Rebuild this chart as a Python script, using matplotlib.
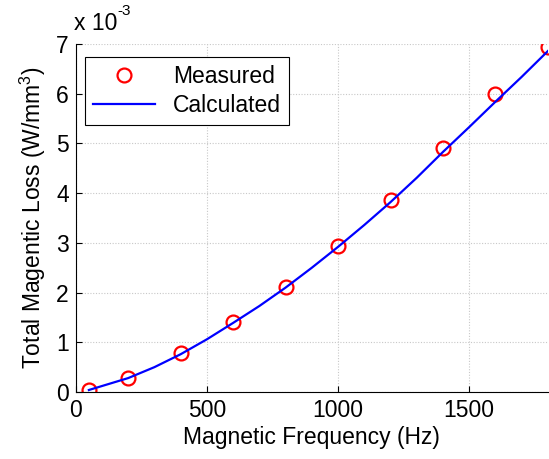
import numpy as np
import matplotlib.pyplot as plt

plt.rcParams['font.family'] = ['Liberation Sans', 'DejaVu Sans']
plt.rcParams['mathtext.fontset'] = 'custom'
plt.rcParams['mathtext.rm'] = 'Liberation Sans'

# measured loss (x1e-3 W/mm^3) at each frequency
freq_meas = [50, 200, 400, 600, 800, 1000, 1200, 1400, 1600, 1800]
loss_meas = [0.04, 0.29, 0.79, 1.41, 2.11, 2.94, 3.87, 4.90, 6.00, 6.94]

# calculated curve
freq_calc = [50, 100, 200, 300, 400, 500, 600, 700, 800, 900, 1000,
             1100, 1200, 1300, 1400, 1500, 1600, 1700, 1800]
loss_calc = [0.04, 0.12, 0.28, 0.50, 0.76, 1.06, 1.39, 1.73, 2.10, 2.50, 2.92,
             3.36, 3.82, 4.31, 4.83, 5.33, 5.84, 6.34, 6.86]

fs = 16.5

fig = plt.figure(figsize=(5.49, 4.59), dpi=100)
ax = fig.add_axes([0.138, 0.146, 0.86, 0.758])

ax.plot(freq_meas, np.array(loss_meas) * 1e-3, 'o', mfc='none', mec='red',
        mew=1.6, ms=10, label='Measured')
ax.plot(freq_calc, np.array(loss_calc) * 1e-3, '-', color='blue', lw=1.6,
        label='Calculated')

ax.set_xlim(0, 1800)
ax.set_ylim(0, 7e-3)
ax.set_xticks([0, 500, 1000, 1500])
ax.set_yticks(np.arange(0, 8) * 1e-3)
ax.set_yticklabels([str(i) for i in range(8)])
ax.tick_params(direction='in', labelsize=fs, length=4, pad=5)
ax.grid(True, linestyle=(0, (1, 1.5)), color='#c8c8c8', lw=0.8)

for s in ['top', 'right']:
    ax.spines[s].set_visible(False)

ax.set_xlabel('Magnetic Frequency (Hz)', fontsize=fs, labelpad=3)
ax.set_ylabel('Total Magentic Loss (W/mm$^\\mathregular{3}$)', fontsize=fs, labelpad=6)
ax.text(-0.003, 1.025, 'x 10', transform=ax.transAxes, fontsize=fs,
        ha='left', va='bottom')
ax.text(0.088, 1.075, '-3', transform=ax.transAxes, fontsize=11,
        ha='left', va='bottom')

leg = ax.legend(loc='upper left', bbox_to_anchor=(0.019, 0.963), fontsize=fs,
                fancybox=False, framealpha=1, edgecolor='black',
                borderpad=0.35, handlelength=2.7, labelspacing=0.25,
                borderaxespad=0)
leg.get_frame().set_linewidth(0.8)

fig.savefig('out.png', dpi=100)
